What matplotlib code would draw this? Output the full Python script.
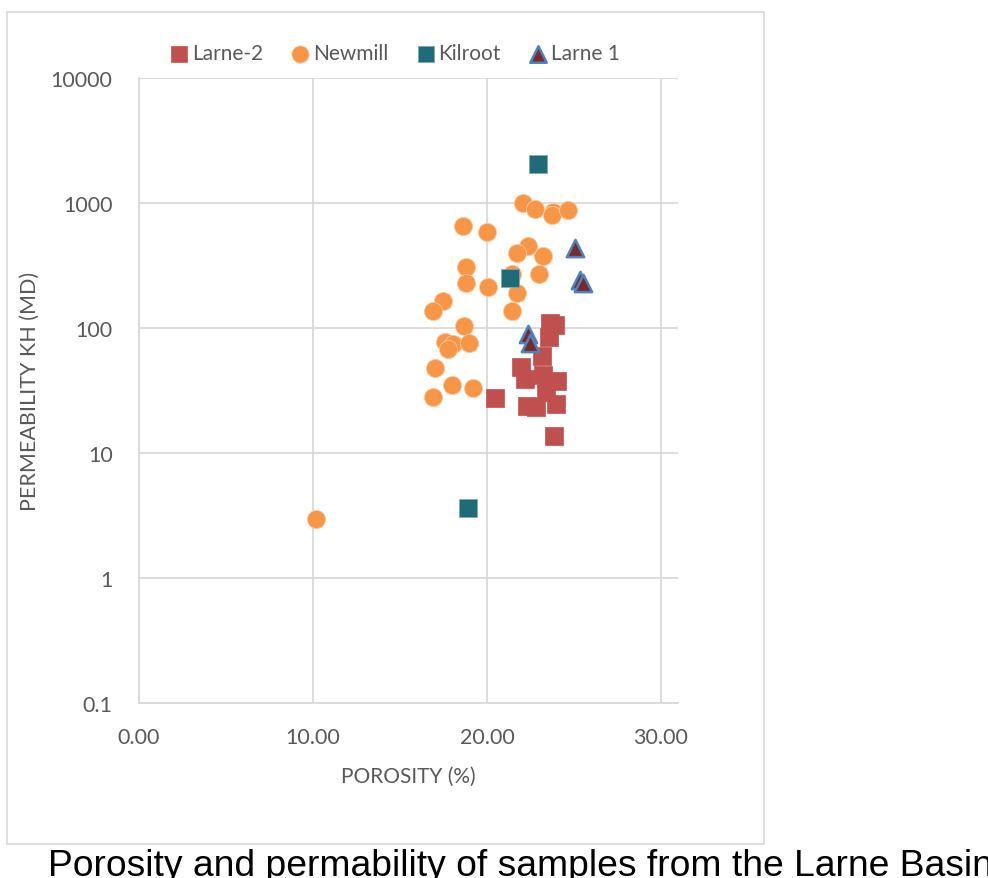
import matplotlib
matplotlib.use("Agg")
import matplotlib.pyplot as plt
from matplotlib.patches import Rectangle
from matplotlib.ticker import FixedLocator, FixedFormatter, NullLocator

# ---- data ----
larne2_por = [23.62, 23.91, 23.56, 23.16, 21.95, 22.18, 23.22, 24.02, 23.39, 22.30, 22.82, 23.97, 23.85, 20.46]
larne2_perm = [109.6, 105.7, 84.7, 59.7, 48.8, 39.1, 42.1, 37.7, 30.8, 23.8, 23.3, 24.7, 13.7, 27.5]

newmill_por = [22.07, 22.76, 23.79, 23.74, 24.66, 18.62, 20.00, 22.36, 21.72, 23.22,
               18.79, 18.79, 20.06, 21.44, 21.72, 22.99, 17.47, 16.90, 21.44, 18.68,
               17.59, 18.05, 17.76, 18.97, 17.01, 17.99, 19.20, 16.90, 10.17]
newmill_perm = [1000, 895, 847, 802, 879, 655, 586, 453, 398, 377,
                308, 229, 213, 270, 191, 270, 164, 137, 137, 104,
                77.3, 74.5, 67.9, 75.9, 47.9, 35.0, 33.1, 28.1, 2.96]

kilroot_por = [22.95, 21.34, 18.93]
kilroot_perm = [2050, 251, 3.63]

larne1_por = [25.07, 25.36, 25.50, 22.37, 22.49]
larne1_perm = [437, 242, 229, 89.5, 75.9]

series_names = ["Larne-2", "Newmill", "Kilroot", "Larne 1"]
x_ticks = [0, 10, 20, 30]
x_ticklabels = ["0.00", "10.00", "20.00", "30.00"]
y_ticks = [0.1, 1, 10, 100, 1000, 10000]
y_ticklabels = ["0.1", "1", "10", "100", "1000", "10000"]

# ---- figure ----
W, H = 988, 879
fig = plt.figure(figsize=(W / 100, H / 100), dpi=100)
fig.patch.set_facecolor("white")

font = "Lato"
txt_col = "#595959"
grid_col = "#D9D9D9"

# chart border
fig.patches.append(Rectangle((7 / W, 1 - 845 / H), (764 - 7) / W, (845 - 13) / H,
                             transform=fig.transFigure, fill=False,
                             edgecolor=grid_col, linewidth=1.2))

L, R, T, B = 139, 678, 79, 704
ax = fig.add_axes([L / W, 1 - B / H, (R - L) / W, (B - T) / H])
ax.set_yscale("log")
ax.set_xlim(0, (R - L) / 17.4)
ax.set_ylim(0.1, 10000)

ax.scatter(larne2_por, larne2_perm, marker="s", s=150, color="#C0504D",
           edgecolors="#C0504D", linewidths=0.5, label=series_names[0], zorder=3)
ax.scatter(newmill_por, newmill_perm, marker="o", s=170, color="#F79646",
           edgecolors="#FBC9A0", linewidths=0.6, label=series_names[1], zorder=4)
ax.scatter(kilroot_por, kilroot_perm, marker="s", s=150, color="#1F6B78",
           edgecolors="#7FA9B0", linewidths=0.6, label=series_names[2], zorder=5)
ax.scatter(larne1_por, larne1_perm, marker="^", s=155, color="#772C2A",
           edgecolors="#4F81BD", linewidths=1.8, label=series_names[3], zorder=6)

ax.xaxis.set_major_locator(FixedLocator(x_ticks))
ax.xaxis.set_major_formatter(FixedFormatter(x_ticklabels))
ax.yaxis.set_major_locator(FixedLocator(y_ticks))
ax.yaxis.set_major_formatter(FixedFormatter(y_ticklabels))
ax.yaxis.set_minor_locator(NullLocator())

ax.grid(True, color=grid_col, linewidth=1.3, zorder=0)
ax.set_axisbelow(True)
for s in ["top", "right"]:
    ax.spines[s].set_visible(False)
for s in ["left", "bottom"]:
    ax.spines[s].set_color(grid_col)
    ax.spines[s].set_linewidth(1.3)
ax.tick_params(length=0, labelsize=15.5, labelcolor=txt_col)
ax.tick_params(axis="y", pad=19)
ax.tick_params(axis="x", pad=17)
for lab in ax.get_xticklabels() + ax.get_yticklabels():
    lab.set_fontfamily(font)

ax.set_xlabel("POROSITY (%)", fontsize=15, color=txt_col, fontfamily=font, labelpad=14)
ax.set_ylabel("PERMEABILITY KH (MD)", fontsize=15.5, color=txt_col, fontfamily=font, labelpad=8)

leg = fig.legend(loc="center", bbox_to_anchor=(392 / W, 1 - 54 / H), ncol=4,
                 frameon=False, handletextpad=-0.1, columnspacing=1.1, handlelength=1.4,
                 markerscale=0.95, prop={"family": font, "size": 15})
for t in leg.get_texts():
    t.set_color(txt_col)

fig.text(48 / W, 1 - 876 / H, "Porosity and permability of samples from the Larne Basin",
         fontsize=26.8, fontfamily="Liberation Sans", color="black",
         ha="left", va="baseline")

fig.savefig("out.png", dpi=100, facecolor="white")
